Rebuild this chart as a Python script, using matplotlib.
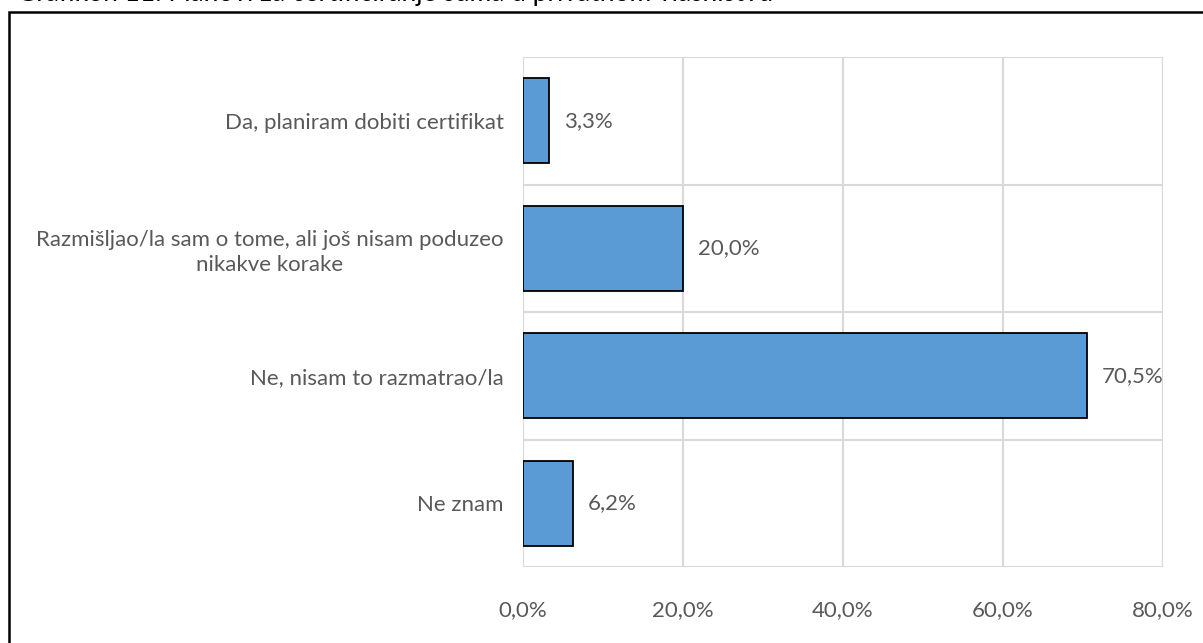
import matplotlib
matplotlib.use("Agg")
import matplotlib.pyplot as plt
from matplotlib.patches import Rectangle

categories = [
    "Da, planiram dobiti certifikat",
    "Razmišljao/la sam o tome, ali još nisam poduzeo\nnikakve korake",
    "Ne, nisam to razmatrao/la",
    "Ne znam",
]
values = [3.3, 20.0, 70.5, 6.2]
xticks = [0, 20, 40, 60, 80]
title = "Grafikon 11: Planovi za certificiranje šuma u privatnom vlasništvu"

plt.rcParams['font.family'] = ['Lato', 'DejaVu Sans']
text_color = "#595959"
fs = 16

fig = plt.figure(figsize=(12.03, 6.43), dpi=100)
W, H = 1203, 643

# outer frame
fig.add_artist(Rectangle((9 / W, -0.1), 1.2, (643 - 12) / H + 0.1,
                         transform=fig.transFigure, fill=False,
                         edgecolor="black", linewidth=1.8))
# title (cut at top edge like the reference)
fig.text(17 / W, 1 - 0.5 / H, title, fontsize=19, color="black",
         ha="left", va="baseline")

ax = fig.add_axes([523 / W, 1 - 567 / H, (1163 - 523) / W, (567 - 57) / H])
y = list(range(len(categories)))
ax.barh(y, values, height=0.67, color="#5B9BD5", edgecolor="black",
        linewidth=1.3, zorder=3)
ax.set_xlim(0, 80)
ax.set_ylim(len(categories) - 0.5, -0.5)
ax.set_xticks(xticks)
ax.set_xticklabels([f"{v:.1f}%".replace(".", ",") for v in xticks],
                   fontsize=fs, color=text_color)
ax.set_yticks(y)
ax.set_yticklabels(categories, fontsize=fs, color=text_color,
                   multialignment="center", linespacing=1.3)
ax.tick_params(axis="y", length=0, pad=14)
ax.tick_params(axis="x", length=0, pad=24)

for v, yy in zip(values, y):
    ax.annotate(f"{v:.1f}%".replace(".", ","), (v, yy), xytext=(15, 0),
                textcoords="offset pixels", va="center", ha="left",
                fontsize=fs, color=text_color, zorder=4)

ax.grid(axis="x", color="#D9D9D9", linewidth=1.5, zorder=0)
for b in [i - 0.5 for i in range(len(categories) + 1)]:
    ax.axhline(b, color="#D9D9D9", linewidth=1.5, zorder=0)
for s in ax.spines.values():
    s.set_visible(False)
ax.axvline(80, color="#D9D9D9", linewidth=1.5, zorder=0)
ax.axvline(0, color="#D9D9D9", linewidth=1.5, zorder=1)

fig.savefig("out.png", dpi=100)
